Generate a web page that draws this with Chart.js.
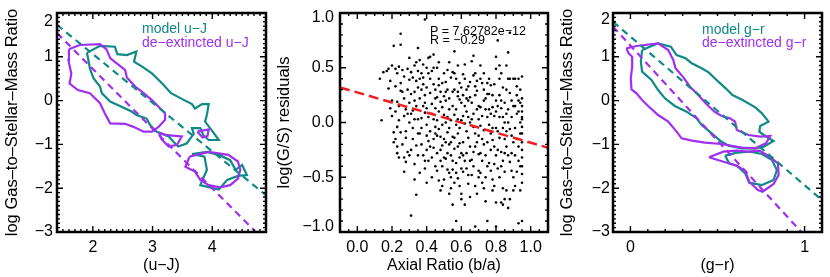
<!DOCTYPE html>
<html>
<head>
<meta charset="utf-8">
<script src="https://cdn.jsdelivr.net/npm/chart.js@4.4.1/dist/chart.umd.min.js"></script>
<style>
  body { margin: 0; background: #fff; width: 830px; height: 277px; position: relative; overflow: hidden; }
  canvas { position: absolute; top: 0; }
</style>
</head>
<body>
<canvas id="c1" width="272" height="277" style="left:0"></canvas>
<canvas id="c2" width="283" height="277" style="left:272px"></canvas>
<canvas id="c3" width="275" height="277" style="left:555px"></canvas>
<script>
// ---- data ----
const gasTicks = [-3, -2, -1, 0, 1, 2];
const uJTicks = [2, 3, 4];
const grTicks = [0, 1];
const axialTicks = [0, 0.2, 0.4, 0.6, 0.8, 1.0];
const residTicks = [-1, -0.5, 0, 0.5, 1];

// left panel: contours of log(G/S) vs (u-J)
const uJModelMain = [[1.90,1.09],[2.12,1.25],[2.37,1.23],[2.41,1.06],[2.57,1.04],[2.73,1.12],[2.69,0.89],[2.82,0.78],[2.99,0.62],[3.17,0.38],[3.31,0.17],[3.49,0.04],[3.66,-0.08],[3.71,-0.18],[3.83,-0.08],[3.94,-0.08],[3.91,-0.33],[3.88,-0.48],[4.02,-0.73],[4.11,-0.90],[3.94,-0.90],[3.85,-0.79],[3.80,-0.63],[3.66,-0.63],[3.69,-0.76],[3.57,-0.98],[3.43,-1.05],[3.35,-0.94],[3.27,-0.82],[3.07,-0.71],[2.96,-0.56],[2.90,-0.41],[2.73,-0.33],[2.65,-0.25],[2.48,-0.14],[2.29,-0.02],[2.15,0.17],[2.12,0.32],[2.01,0.51],[1.95,0.74],[1.92,0.97],[1.90,1.09]];
const uJModelLow = [[3.66,-1.22],[3.87,-1.28],[3.91,-1.58],[3.80,-1.93],[4.11,-2.03],[4.25,-1.81],[4.43,-1.72],[4.58,-1.70],[4.50,-1.47],[4.39,-1.58],[4.30,-1.36],[4.11,-1.24],[3.91,-1.17],[3.66,-1.22]];
const uJDeextMain = [[1.60,1.17],[1.78,1.27],[2.12,1.29],[2.23,1.17],[2.29,0.97],[2.40,0.85],[2.54,0.70],[2.57,0.53],[2.71,0.32],[2.85,0.17],[2.99,0.01],[3.13,-0.18],[3.21,-0.29],[3.21,-0.44],[3.10,-0.60],[2.99,-0.71],[2.85,-0.71],[2.68,-0.60],[2.54,-0.53],[2.29,-0.52],[2.20,-0.29],[2.12,-0.06],[1.95,0.17],[1.75,0.24],[1.61,0.39],[1.64,0.62],[1.59,0.93],[1.60,1.17]];
const uJDeextSmall1 = [[3.11,-0.73],[3.24,-0.79],[3.49,-0.82],[3.41,-1.01],[3.27,-1.05],[3.15,-0.88],[3.11,-0.73]];
const uJDeextSmall2 = [[3.75,-0.71],[3.94,-0.66],[3.92,-0.81],[3.84,-0.84],[3.75,-0.71]];
const uJDeextLow = [[3.62,-1.28],[3.94,-1.17],[4.27,-1.24],[4.43,-1.39],[4.47,-1.58],[4.43,-1.78],[4.30,-1.93],[4.13,-1.98],[3.94,-1.93],[3.80,-1.81],[3.71,-1.62],[3.55,-1.51],[3.62,-1.28]];
const uJModelFitX = [1.4, 4.9], uJModelFitY = [1.73, -2.16];
const uJDeextFitX = [1.4, 4.73], uJDeextFitY = [1.54, -3.0];

// right panel: contours of log(G/S) vs (g-r)
const grModelMain = [[0.067,1.155],[0.159,1.307],[0.232,1.231],[0.265,1.041],[0.317,0.965],[0.352,0.851],[0.409,0.737],[0.451,0.638],[0.505,0.432],[0.547,0.280],[0.586,0.128],[0.644,0.014],[0.717,-0.154],[0.755,-0.291],[0.793,-0.481],[0.745,-0.580],[0.740,-0.709],[0.774,-0.808],[0.822,-0.922],[0.765,-1.052],[0.717,-1.090],[0.640,-1.090],[0.563,-1.029],[0.515,-0.915],[0.467,-0.747],[0.409,-0.557],[0.380,-0.405],[0.323,-0.253],[0.255,-0.123],[0.198,0.052],[0.159,0.242],[0.121,0.470],[0.067,0.661],[0.060,0.889],[0.067,1.155]];
const grModelLow = [[0.544,-1.257],[0.611,-1.189],[0.688,-1.166],[0.755,-1.219],[0.813,-1.356],[0.841,-1.584],[0.822,-1.813],[0.755,-1.927],[0.682,-1.874],[0.659,-1.661],[0.611,-1.486],[0.567,-1.432],[0.544,-1.257]];
const grDeextMain = [[-0.023,1.193],[0.035,1.247],[0.159,1.307],[0.217,1.155],[0.246,0.927],[0.259,0.737],[0.304,0.531],[0.342,0.318],[0.390,0.128],[0.432,-0.062],[0.482,-0.253],[0.524,-0.352],[0.572,-0.405],[0.601,-0.481],[0.611,-0.671],[0.678,-0.785],[0.745,-0.823],[0.803,-0.808],[0.778,-0.976],[0.717,-1.090],[0.640,-1.075],[0.524,-0.991],[0.428,-0.960],[0.352,-0.915],[0.294,-0.861],[0.265,-0.709],[0.217,-0.481],[0.159,-0.329],[0.102,-0.123],[0.067,0.014],[0.035,0.166],[0.006,0.257],[0.002,0.508],[0.010,0.775],[0.010,1.003],[-0.010,1.079],[-0.023,1.193]];
const grDeextLow = [[0.451,-1.295],[0.534,-1.166],[0.611,-1.143],[0.678,-1.166],[0.740,-1.143],[0.793,-1.265],[0.847,-1.432],[0.851,-1.699],[0.822,-1.904],[0.759,-2.079],[0.732,-2.041],[0.682,-1.851],[0.659,-1.600],[0.611,-1.486],[0.544,-1.409],[0.451,-1.295]];
const grModelFitX = [-0.1, 1.1], grModelFitY = [1.80, -2.27];
const grDeextFitX = [-0.1, 0.981], grDeextFitY = [1.69, -3.0];

// middle panel: residuals vs axial ratio
const residPoints = [
[0.13,0.40],[0.14,0.02],[0.15,0.46],
[0.17,0.47],[0.18,0.31],[0.19,0.38],[0.19,0.13],[0.20,0.20],[0.20,0.52],[0.21,-0.09],[0.21,0.70],[0.18,0.49],[0.20,0.06],
[0.22,0.49],[0.23,0.45],[0.22,0.33],[0.23,0.19],[0.24,0.02],[0.22,-0.15],[0.23,-0.22],[0.24,-0.32],[0.25,0.29],[0.25,0.36],[0.24,0.51],[0.23,-0.04],[0.25,0.81],[0.25,0.71],[0.22,0.10],[0.24,0.15],[0.25,-0.09],[0.23,-0.28],[0.21,-0.18],
[0.26,0.28],[0.27,0.42],[0.27,-0.45],[0.28,-0.36],[0.28,0.12],[0.29,0.30],[0.30,0.39],[0.30,0.59],[0.26,-0.20],[0.27,0.06],[0.28,-0.08],[0.29,-0.27],[0.30,0.00],[0.30,-0.30],[0.27,0.22],[0.29,0.49],[0.26,0.48],[0.28,-0.14],[0.30,0.18],[0.31,-0.85],[0.29,0.08],[0.27,-0.32],
[0.31,0.46],[0.32,0.41],[0.33,0.28],[0.33,0.03],[0.34,0.15],[0.34,-0.66],[0.35,0.68],[0.35,0.47],[0.32,-0.15],[0.33,-0.38],[0.34,-0.21],[0.35,-0.10],[0.31,0.26],[0.32,0.11],[0.35,0.32],[0.33,0.52],[0.34,0.38],[0.35,0.03],[0.32,-0.05],[0.31,-0.25],[0.33,0.20],[0.35,-0.30],[0.34,0.55],[0.31,0.08],[0.33,-0.52],
[0.36,0.57],[0.37,0.45],[0.38,0.35],[0.38,0.41],[0.39,0.25],[0.39,0.09],[0.40,0.13],[0.40,-0.02],[0.36,-0.10],[0.37,-0.20],[0.38,-0.30],[0.39,-0.35],[0.40,-0.25],[0.40,0.50],[0.39,0.94],[0.36,0.22],[0.37,0.30],[0.38,0.15],[0.37,0.04],[0.36,-0.46],[0.40,-0.55],[0.39,-0.42],[0.38,0.53],[0.40,0.32],[0.36,0.40],[0.37,-0.05],[0.39,0.18],[0.40,-0.12],
[0.41,0.45],[0.42,0.40],[0.42,0.27],[0.43,0.17],[0.43,0.08],[0.44,0.03],[0.45,0.22],[0.45,-0.04],[0.41,-0.17],[0.42,-0.22],[0.43,-0.32],[0.44,-0.23],[0.45,-0.40],[0.41,0.59],[0.44,0.50],[0.43,0.47],[0.42,-0.08],[0.44,0.35],[0.45,0.13],[0.41,0.05],[0.43,-0.50],[0.44,-0.15],[0.42,0.60],[0.45,0.30],[0.41,-0.35],[0.45,-0.10],[0.44,0.62],
[0.46,0.50],[0.47,0.40],[0.48,0.28],[0.48,0.19],[0.49,0.14],[0.50,0.07],[0.46,0.02],[0.47,-0.06],[0.48,-0.13],[0.49,-0.21],[0.50,-0.32],[0.46,-0.44],[0.47,-0.53],[0.48,-0.62],[0.49,-0.40],[0.50,-0.52],[0.47,0.34],[0.46,0.23],[0.49,0.36],[0.50,0.24],[0.48,-0.25],[0.46,-0.28],[0.50,0.45],[0.47,0.10],[0.49,-0.02],[0.50,-0.15],[0.48,-0.35],[0.46,-0.12],[0.47,0.55],[0.49,-0.58],
[0.51,0.37],[0.52,0.30],[0.53,0.22],[0.53,0.12],[0.54,0.41],[0.55,0.46],[0.51,0.00],[0.52,-0.09],[0.53,-0.20],[0.54,-0.30],[0.55,-0.35],[0.51,-0.33],[0.52,-0.43],[0.53,-0.46],[0.54,-0.60],[0.55,-0.75],[0.55,-0.98],[0.52,0.05],[0.51,0.20],[0.55,0.15],[0.54,0.02],[0.53,-0.05],[0.55,-0.13],[0.51,-0.18],[0.52,-0.28],[0.54,-0.50],[0.53,0.55],[0.52,0.48],[0.55,0.28],[0.54,-0.18],[0.51,0.28],[0.55,-0.43],[0.53,-0.65],
[0.56,0.65],[0.56,0.45],[0.57,0.40],[0.58,0.28],[0.58,0.24],[0.59,0.21],[0.60,0.18],[0.56,0.07],[0.57,-0.02],[0.58,-0.10],[0.59,-0.19],[0.60,-0.28],[0.56,-0.24],[0.57,-0.37],[0.58,-0.51],[0.59,-0.58],[0.60,-0.65],[0.57,-0.90],[0.60,-0.70],[0.56,0.30],[0.57,0.12],[0.59,0.36],[0.58,0.03],[0.60,0.02],[0.59,-0.05],[0.56,-0.14],[0.57,-0.46],[0.60,-0.42],[0.58,0.52],[0.59,-0.32],[0.56,-0.55],[0.60,0.32],[0.58,-0.22],
[0.61,0.44],[0.62,0.40],[0.63,0.30],[0.63,0.22],[0.64,0.20],[0.65,0.23],[0.61,0.06],[0.62,-0.01],[0.63,-0.08],[0.64,-0.14],[0.65,-0.22],[0.61,-0.30],[0.62,-0.35],[0.63,-0.42],[0.64,-0.56],[0.65,-0.68],[0.62,-0.75],[0.64,-0.48],[0.65,0.37],[0.61,0.25],[0.62,0.15],[0.64,0.05],[0.65,0.00],[0.63,-0.28],[0.61,-0.18],[0.65,-0.35],[0.62,0.53],[0.64,0.33],[0.63,0.10],[0.61,-0.45],
[0.66,0.56],[0.67,0.43],[0.68,0.33],[0.68,0.25],[0.69,0.12],[0.70,0.15],[0.66,0.03],[0.67,-0.04],[0.68,-0.10],[0.69,-0.18],[0.70,-0.29],[0.66,-0.34],[0.67,-0.40],[0.68,-0.58],[0.69,-0.65],[0.70,-0.50],[0.68,-0.95],[0.70,-0.44],[0.67,0.61],[0.66,0.18],[0.69,0.38],[0.70,0.03],[0.67,0.08],[0.68,-0.22],[0.66,-0.48],[0.69,0.29],[0.70,-0.12],[0.67,-0.27],[0.68,0.45],
[0.71,0.40],[0.72,0.36],[0.73,0.30],[0.73,0.20],[0.74,0.12],[0.75,0.05],[0.71,-0.03],[0.72,-0.15],[0.73,-0.20],[0.74,-0.30],[0.75,-0.40],[0.71,-0.46],[0.72,-0.55],[0.73,-0.60],[0.74,-0.72],[0.75,-0.90],[0.72,0.06],[0.74,0.22],[0.75,0.26],[0.71,0.14],[0.73,-0.07],[0.74,-0.50],[0.75,-0.18],[0.72,-0.35],[0.71,0.52],[0.75,0.36],[0.73,0.45],[0.71,-0.28],
[0.76,0.26],[0.77,0.34],[0.78,0.25],[0.78,0.14],[0.79,0.06],[0.80,0.60],[0.80,0.49],[0.76,-0.02],[0.77,-0.10],[0.78,-0.16],[0.79,-0.22],[0.80,-0.30],[0.76,-0.37],[0.77,-0.44],[0.78,-0.52],[0.79,-0.58],[0.80,-0.73],[0.80,-0.95],[0.77,0.08],[0.79,0.35],[0.80,0.20],[0.76,0.12],[0.78,-0.05],[0.80,-0.05],[0.79,-0.38],[0.77,-0.25],[0.76,0.40],[0.80,0.10],[0.78,-0.62],
[0.81,0.75],[0.82,0.40],[0.82,0.25],[0.83,0.13],[0.84,0.05],[0.85,0.00],[0.81,-0.08],[0.82,-0.14],[0.83,-0.27],[0.84,-0.35],[0.85,-0.28],[0.81,-0.42],[0.82,-0.50],[0.83,-0.73],[0.84,-0.75],[0.85,-0.70],[0.82,0.52],[0.84,0.32],[0.83,0.20],[0.85,0.18],[0.81,0.15],[0.82,0.05],[0.84,-0.05],[0.85,-0.15],[0.83,-0.40],[0.81,-0.25],[0.85,-0.45],[0.83,0.45],[0.84,-0.60],
[0.86,0.52],[0.87,0.64],[0.87,0.40],[0.88,0.40],[0.88,0.27],[0.89,0.20],[0.90,0.15],[0.86,0.08],[0.87,0.00],[0.88,-0.06],[0.89,-0.12],[0.90,-0.18],[0.86,-0.22],[0.87,-0.30],[0.88,-0.36],[0.89,-0.44],[0.90,-0.50],[0.86,-0.62],[0.87,-0.78],[0.88,-0.70],[0.90,-0.62],[0.89,0.05],[0.86,0.30],[0.90,0.40],[0.87,0.12],[0.88,0.82],[0.89,-0.28],[0.86,-0.08],
[0.91,0.40],[0.92,0.25],[0.93,0.10],[0.93,0.20],[0.94,0.00],[0.95,0.42],[0.95,0.22],[0.95,0.15],[0.95,0.10],[0.95,0.03],[0.95,-0.04],[0.95,-0.10],[0.95,-0.18],[0.95,-0.25],[0.95,-0.32],[0.95,-0.40],[0.95,-0.47],[0.95,-0.55],[0.94,-0.62],[0.95,-0.90],[0.93,-0.92],[0.92,-0.15],[0.91,-0.05],[0.93,-0.35],[0.92,-0.45],[0.91,0.15],[0.94,0.30],[0.92,0.08],[0.93,-0.22],[0.91,-0.30],[0.94,-0.10],[0.92,0.33],[0.93,0.40],[0.94,0.18],[0.91,-0.58],[0.95,0.05],[0.94,-0.40]
];
const residFitX = [-0.1, 1.1], residFitY = [0.32, -0.23];

// ---- styling ----
const TEAL = '#0f8a86';
const PURPLE = '#a030f0';
const RED = '#f02020';
const FONT = 'Liberation Sans, Arial, Helvetica, sans-serif';
const MINUS = '\u2212';

function pts(pairs) { return pairs.map(p => ({ x: p[0], y: p[1] })); }
function seg(xs, ys) { return xs.map((x, i) => ({ x: x, y: ys[i] })); }
function fmt(v, d) { const s = Math.abs(v).toFixed(d); return v < 0 ? MINUS + s : s; }

function contour(pairs, color) {
  return { data: pts(pairs), showLine: true, borderColor: color, borderWidth: 2.2, pointRadius: 0, fill: false, tension: 0 };
}
function dashed(xs, ys, color, dash, w) {
  return { data: seg(xs, ys), showLine: true, borderColor: color, borderWidth: w, borderDash: dash, pointRadius: 0, fill: false };
}

// IDL-like frame: box with inward major/minor ticks on all four sides
const frame = {
  id: 'frame',
  afterDatasetsDraw(chart, args, o) {
    const { ctx, chartArea: a, scales: { x, y } } = chart;
    const steps = (s, st) => { const r = []; for (let i = Math.ceil(s.min / st - 1e-6); i * st <= s.max + 1e-9; i++) r.push(i * st); return r; };
    ctx.save();
    ctx.strokeStyle = '#000';
    ctx.lineWidth = 1.4;
    ctx.beginPath();
    const tickX = (v, len) => { const p = x.getPixelForValue(v); ctx.moveTo(p, a.bottom); ctx.lineTo(p, a.bottom - len); ctx.moveTo(p, a.top); ctx.lineTo(p, a.top + len); };
    const tickY = (v, len) => { const p = y.getPixelForValue(v); ctx.moveTo(a.left, p); ctx.lineTo(a.left + len, p); ctx.moveTo(a.right, p); ctx.lineTo(a.right - len, p); };
    steps(x, o.xMinor).forEach(v => tickX(v, 3));
    steps(y, o.yMinor).forEach(v => tickY(v, 3));
    x.ticks.forEach(t => tickX(t.value, 6));
    y.ticks.forEach(t => tickY(t.value, 6));
    ctx.stroke();
    ctx.lineWidth = 2.5;
    ctx.strokeRect(a.left, a.top, a.right - a.left, a.bottom - a.top);
    (o.notes || []).forEach(n => {
      ctx.font = n.font;
      ctx.fillStyle = n.color;
      ctx.textBaseline = 'alphabetic';
      ctx.fillText(n.text, n.x, n.y);
    });
    ctx.restore();
  }
};

function panel(id, p) {
  return new Chart(document.getElementById(id), {
    type: 'scatter',
    data: { datasets: p.datasets },
    options: {
      responsive: false,
      animation: false,
      devicePixelRatio: 1,
      layout: { padding: { top: 13, right: p.padRight, left: 0, bottom: 0 } },
      plugins: { legend: { display: false }, tooltip: { enabled: false }, frame: { xMinor: p.xMinor, yMinor: p.yMinor, notes: p.notes } },
      scales: {
        x: {
          type: 'linear', min: p.xMin, max: p.xMax,
          grid: { display: false, drawTicks: false }, border: { display: false },
          afterBuildTicks: s => { s.ticks = p.xTicks.map(v => ({ value: v })); },
          afterFit: s => { s.height = 45; s.paddingLeft = 0; s.paddingRight = 0; },
          ticks: { padding: 6, color: '#000', maxRotation: 0, autoSkip: false, font: { family: FONT, size: 16 }, callback: v => fmt(v, p.xDec) },
          title: { display: true, text: p.xTitle, color: '#000', font: { family: FONT, size: 16 }, padding: { top: 0, bottom: 2 } }
        },
        y: {
          type: 'linear', min: p.yMin, max: p.yMax,
          grid: { display: false, drawTicks: false }, border: { display: false },
          afterBuildTicks: s => { s.ticks = p.yTicks.map(v => ({ value: v })); },
          afterFit: s => { s.width = p.yWidth; s.paddingTop = 0; s.paddingBottom = 0; },
          ticks: {
            padding: p.yPad, color: '#000', autoSkip: false,
            font: { family: FONT, size: 16, lineHeight: p.edgeShift * 2 + 'px' },
            callback: v => {
              const t = fmt(v, p.yDec);
              if (v === p.yMax && p.shiftTop) return ['', t];
              if (v === p.yMin && p.shiftBottom) return [t, ''];
              return t;
            }
          },
          title: { display: true, text: p.yTitle, color: '#000', font: { family: FONT, size: 16.5 }, padding: { top: 3, bottom: 0 } }
        }
      }
    },
    plugins: [frame]
  });
}

const legendFont = '14px ' + FONT;

panel('c1', {
  xMin: 1.4, xMax: 4.9, xTicks: uJTicks, xMinor: 0.1, xDec: 0, xTitle: '(u' + MINUS + 'J)',
  yMin: -3, yMax: 2, yTicks: gasTicks, yMinor: 0.1, yDec: 0, yTitle: 'log Gas\u2013to\u2013Stellar\u2013Mass Ratio',
  yWidth: 57, padRight: 6, yPad: 4, edgeShift: 8.5, shiftTop: true,
  notes: [
    { text: 'model u' + MINUS + 'J', x: 142, y: 33, color: TEAL, font: legendFont },
    { text: 'de' + MINUS + 'extincted u' + MINUS + 'J', x: 142, y: 47, color: PURPLE, font: legendFont }
  ],
  datasets: [
    dashed(uJModelFitX, uJModelFitY, TEAL, [7, 5], 2.2),
    dashed(uJDeextFitX, uJDeextFitY, PURPLE, [7, 5], 2.2),
    contour(uJDeextMain, PURPLE), contour(uJDeextSmall1, PURPLE), contour(uJDeextSmall2, PURPLE), contour(uJDeextLow, PURPLE),
    contour(uJModelMain, TEAL), contour(uJModelLow, TEAL)
  ]
});

panel('c2', {
  xMin: -0.1, xMax: 1.1, xTicks: axialTicks, xMinor: 0.05, xDec: 1, xTitle: 'Axial Ratio (b/a)',
  yMin: -1, yMax: 1, yTicks: residTicks, yMinor: 0.1, yDec: 1, yTitle: 'log(G/S) residuals',
  yWidth: 68, padRight: 7, yPad: 6, edgeShift: 5, shiftTop: true, shiftBottom: true,
  notes: [
    { text: 'P = 7.62782e' + MINUS + '12', x: 158, y: 35, color: '#000', font: '12.5px ' + FONT },
    { text: 'R = ' + MINUS + '0.29', x: 158, y: 44, color: '#000', font: '12.5px ' + FONT }
  ],
  datasets: [
    dashed(residFitX, residFitY, RED, [10, 5], 2.5),
    { data: pts(residPoints), pointRadius: 1.3, pointBackgroundColor: '#000', pointBorderWidth: 0, showLine: false }
  ]
});

panel('c3', {
  xMin: -0.1, xMax: 1.1, xTicks: grTicks, xMinor: 0.1, xDec: 0, xTitle: '(g' + MINUS + 'r)',
  yMin: -3, yMax: 2, yTicks: gasTicks, yMinor: 0.1, yDec: 0, yTitle: 'log Gas\u2013to\u2013Stellar\u2013Mass Ratio',
  yWidth: 58, padRight: 8, yPad: 3, edgeShift: 7, shiftTop: true,
  notes: [
    { text: 'model g' + MINUS + 'r', x: 147, y: 34, color: TEAL, font: legendFont },
    { text: 'de' + MINUS + 'extincted g' + MINUS + 'r', x: 147, y: 47, color: PURPLE, font: legendFont }
  ],
  datasets: [
    dashed(grModelFitX, grModelFitY, TEAL, [7, 5], 2.2),
    dashed(grDeextFitX, grDeextFitY, PURPLE, [7, 5], 2.2),
    contour(grDeextMain, PURPLE), contour(grDeextLow, PURPLE),
    contour(grModelMain, TEAL), contour(grModelLow, TEAL)
  ]
});
</script>
</body>
</html>
